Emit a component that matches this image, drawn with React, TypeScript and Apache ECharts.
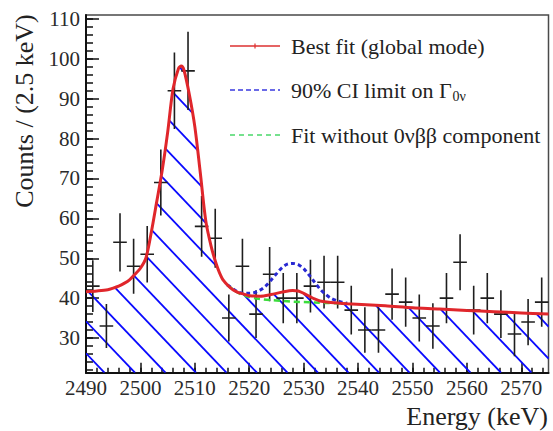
import React, { useEffect, useRef } from 'react';
import * as echarts from 'echarts';

// ---------- data ----------
const BIN_CENTERS = [2491.25, 2493.75, 2496.25, 2498.75, 2501.25, 2503.75, 2506.25, 2508.75, 2511.25, 2513.75, 2516.25, 2518.75, 2521.25, 2523.75, 2526.25, 2528.75, 2531.25, 2533.75, 2536.25, 2538.75, 2541.25, 2543.75, 2546.25, 2548.75, 2551.25, 2553.75, 2556.25, 2558.75, 2561.25, 2563.75, 2566.25, 2568.75, 2571.25, 2573.75];
const COUNTS = [43, 33, 54, 48, 51, 69, 92, 97, 58, 55, 35, 48, 36, 46, 40, 40, 43, 44, 44, 37, 32, 32, 41, 39, 35, 33, 40, 49, 37, 40, 36, 31, 34, 39];
const ERR_LOW = [36.5, 27.5, 46.7, 41.1, 43.9, 60.7, 82.4, 87.2, 50.4, 47.6, 29.1, 41.1, 30, 39.2, 33.7, 33.7, 36.4, 37.4, 37.4, 30.9, 26.3, 26.3, 34.6, 32.8, 29.1, 27.3, 33.7, 42, 30.9, 33.7, 30, 25.4, 28.2, 32.8];
const ERR_HIGH = [49.5, 38.5, 61.3, 54.9, 58.1, 77.3, 101.6, 106.8, 65.6, 62.4, 40.9, 54.9, 42, 52.8, 46.3, 46.3, 49.6, 50.6, 50.6, 43.1, 37.7, 37.7, 47.4, 45.2, 40.9, 38.7, 46.3, 56, 43.1, 46.3, 42, 36.6, 39.8, 45.2];

// Best fit (global mode)
const FIT_E = [2490, 2492, 2494, 2495, 2496, 2497, 2498, 2499, 2500, 2501, 2502, 2503, 2504, 2505, 2506, 2507, 2507.5, 2508, 2509, 2510, 2511, 2512, 2513, 2514, 2515, 2516, 2517, 2518, 2519, 2520, 2522, 2524, 2526, 2528, 2529, 2530, 2531, 2532, 2533, 2535, 2538, 2545, 2550, 2555, 2560, 2565, 2570, 2575];
const FIT_V = [41.6, 41.8, 42.1, 42.5, 43.0, 43.7, 44.6, 46.0, 47.5, 50.0, 56.5, 64.2, 72.0, 81.5, 92.5, 97.6, 98.2, 97.2, 91.0, 83.0, 71.5, 59.5, 53.0, 48.3, 45.0, 43.3, 42.1, 41.4, 41.0, 40.6, 40.5, 40.9, 41.5, 41.9, 41.8, 41.2, 40.5, 39.8, 39.3, 38.9, 38.6, 38.1, 37.6, 37.3, 36.9, 36.6, 36.3, 36.0];

// 90% CI limit
const BLUE_E = [2516, 2518, 2520, 2521, 2522, 2523, 2524, 2525, 2526, 2527, 2528, 2529, 2530, 2531, 2532, 2533, 2534, 2535, 2536, 2537, 2538];
const BLUE_V = [43.3, 41.5, 41.2, 41.4, 42.0, 43.0, 44.5, 46.1, 47.6, 48.5, 48.7, 48.4, 47.4, 45.8, 44.0, 42.3, 41.0, 40.0, 39.4, 39.0, 38.7];

// Fit without 0vbb component
const GREEN_E = [2516, 2518, 2520, 2522, 2524, 2526, 2528, 2530, 2532, 2534, 2536, 2538];
const GREEN_V = [43.3, 41.3, 40.3, 39.8, 39.5, 39.3, 39.1, 39.0, 38.9, 38.8, 38.7, 38.6];

const X_TICK_LABELS = [2490, 2500, 2510, 2520, 2530, 2540, 2550, 2560, 2570];
const Y_TICK_LABELS = [30, 40, 50, 60, 70, 80, 90, 100, 110];

// ---------- styling ----------
const X_MIN = 2490;
const X_MAX = 2575;
const Y_MIN = 21.3;
const Y_MAX = 111;
const BIN_WIDTH = 2.5;
const FONT = "'Liberation Serif', 'Times New Roman', serif";
const HATCH_ANCHOR = 2499.0;
const HATCH_STEP = 30.5;
const HATCH_SLOPE = 1.05;
const HATCH_COLOR = '#0a0aff';

const X_MINOR: number[] = [];
for (let v = X_MIN + 2; v < X_MAX; v += 2) X_MINOR.push(v);
const Y_MINOR: number[] = [];
for (let v = 22; v <= 110; v += 2) Y_MINOR.push(v);

const zip = (a: number[], b: number[]) => a.map((x, i) => [x, b[i]]);

function renderHatch(_params: any, api: any) {
  const pts = FIT_E.map((e, i) => api.coord([e, FIT_V[i]]));
  const lb = api.coord([X_MIN, Y_MIN]);
  const rt = api.coord([X_MAX, Y_MAX]);
  const left = lb[0], bottom = lb[1], right = rt[0], top = rt[1];
  const curveY = (x: number) => {
    if (x <= pts[0][0]) return pts[0][1];
    for (let i = 1; i < pts.length; i++) {
      if (x <= pts[i][0]) {
        const t = (x - pts[i - 1][0]) / (pts[i][0] - pts[i - 1][0]);
        return pts[i - 1][1] + t * (pts[i][1] - pts[i - 1][1]);
      }
    }
    return pts[pts.length - 1][1];
  };
  const anchor = api.coord([HATCH_ANCHOR, Y_MIN])[0];
  const h = bottom - top;
  let x0 = anchor;
  while (x0 - HATCH_STEP >= left) x0 -= HATCH_STEP;
  const children: any[] = [];
  for (; x0 <= right + h / HATCH_SLOPE; x0 += HATCH_STEP) {
    const xa = Math.max(left, x0 - h / HATCH_SLOPE);
    const xb = Math.min(right, x0);
    if (xb <= xa) continue;
    const lineY = (x: number) => bottom - HATCH_SLOPE * (x0 - x);
    const n = Math.max(1, Math.ceil((xb - xa) / 0.5));
    let start = -1;
    let prevX = xa;
    for (let k = 0; k <= n; k++) {
      const x = xa + ((xb - xa) * k) / n;
      const ins = lineY(x) >= curveY(x);
      if (ins && start < 0) start = x;
      if ((!ins || k === n) && start >= 0) {
        const end = ins ? x : prevX;
        if (end > start) {
          children.push({
            type: 'line',
            shape: { x1: start, y1: lineY(start), x2: end, y2: lineY(end) },
            style: { stroke: HATCH_COLOR, lineWidth: 1.8 },
          });
        }
        start = -1;
      }
      prevX = x;
    }
  }
  return { type: 'group', children };
}

function renderErr(_params: any, api: any) {
  const e = api.value(0), v = api.value(1), lo = api.value(2), hi = api.value(3);
  const c = api.coord([e, v]);
  const pLo = api.coord([e, lo]);
  const pHi = api.coord([e, hi]);
  const hw = api.size([BIN_WIDTH, 0])[0] / 2;
  const st = { stroke: '#1e1e1e', lineWidth: 1.6 };
  return {
    type: 'group',
    children: [
      { type: 'line', shape: { x1: c[0], y1: pLo[1], x2: c[0], y2: pHi[1] }, style: st },
      { type: 'line', shape: { x1: c[0] - hw, y1: c[1], x2: c[0] + hw, y2: c[1] }, style: st },
    ],
  };
}

const tickLine = { color: '#111', width: 1.5 };
const plain = (v: number) => String(v);

const option: any = {
  animation: false,
  backgroundColor: '#ffffff',
  textStyle: { fontFamily: FONT },
  grid: {
    left: 86, right: 4.5, top: 15, bottom: 58.3,
    show: true, borderColor: '#4a4a4a', borderWidth: 1.5, backgroundColor: 'transparent',
  },
  xAxis: [
    {
      type: 'value', min: X_MIN, max: X_MAX, position: 'bottom',
      axisLine: { show: true, onZero: false, lineStyle: { color: '#111', width: 2 } },
      axisTick: { show: true, inside: true, length: 10, customValues: X_TICK_LABELS, lineStyle: tickLine },
      axisLabel: { customValues: X_TICK_LABELS, formatter: plain, fontFamily: FONT, fontSize: 21, color: '#2a2a2a', margin: 5 },
      splitLine: { show: false },
    },
    {
      type: 'value', min: X_MIN, max: X_MAX, position: 'bottom',
      axisLine: { show: false, onZero: false },
      axisTick: { show: true, inside: true, length: 5, customValues: X_MINOR, lineStyle: tickLine },
      axisLabel: { show: false },
      splitLine: { show: false },
    },
  ],
  yAxis: [
    {
      type: 'value', min: Y_MIN, max: Y_MAX, position: 'left',
      axisLine: { show: true, onZero: false, lineStyle: { color: '#111', width: 2 } },
      axisTick: { show: true, inside: true, length: 13, customValues: Y_TICK_LABELS, lineStyle: tickLine },
      axisLabel: { customValues: Y_TICK_LABELS, formatter: plain, fontFamily: FONT, fontSize: 21, color: '#2a2a2a', margin: 6 },
      splitLine: { show: false },
    },
    {
      type: 'value', min: Y_MIN, max: Y_MAX, position: 'left',
      axisLine: { show: false, onZero: false },
      axisTick: { show: true, inside: true, length: 7, customValues: Y_MINOR, lineStyle: tickLine },
      axisLabel: { show: false },
      splitLine: { show: false },
    },
  ],
  series: [
    {
      type: 'custom', name: 'hatch', xAxisIndex: 0, yAxisIndex: 0, silent: true, clip: true, z: 1,
      renderItem: renderHatch, data: [[X_MIN, Y_MIN]], encode: { x: 0, y: 1 },
    },
    {
      type: 'custom', name: 'data', xAxisIndex: 0, yAxisIndex: 0, silent: true, clip: true, z: 3,
      renderItem: renderErr,
      data: BIN_CENTERS.map((e, i) => [e, COUNTS[i], ERR_LOW[i], ERR_HIGH[i]]),
      encode: { x: 0, y: 1 },
    },
    {
      type: 'line', name: 'green', data: zip(GREEN_E, GREEN_V), smooth: 0.3, symbol: 'none', silent: true, z: 4,
      lineStyle: { color: '#3cdc3c', width: 2.5, type: [6, 4] },
    },
    {
      type: 'line', name: 'blue', data: zip(BLUE_E, BLUE_V), smooth: 0.3, symbol: 'none', silent: true, z: 5,
      lineStyle: { color: '#2828d2', width: 3, type: [4, 3] },
    },
    {
      type: 'line', name: 'red', data: zip(FIT_E, FIT_V), smooth: 0.3, symbol: 'none', silent: true, z: 6,
      lineStyle: { color: '#e0262b', width: 3 },
    },
  ],
  graphic: [
    // legend
    { type: 'line', z: 100, shape: { x1: 230, y1: 46, x2: 280, y2: 46 }, style: { stroke: '#dd3030', lineWidth: 1.6 } },
    { type: 'line', z: 100, shape: { x1: 255, y1: 43.5, x2: 255, y2: 48.5 }, style: { stroke: '#dd3030', lineWidth: 1.2 } },
    {
      type: 'text', z: 100, x: 291, y: 46,
      style: { text: 'Best fit (global mode)', font: `22px ${FONT}`, fill: '#222', align: 'left', verticalAlign: 'middle' },
    },
    { type: 'line', z: 100, shape: { x1: 230, y1: 90, x2: 280, y2: 90 }, style: { stroke: '#3a3ae0', lineWidth: 1.6, lineDash: [5, 3] } },
    {
      type: 'text', z: 100, x: 291, y: 90,
      style: {
        text: '90% CI limit on Γ{sub|0ν}', font: `22px ${FONT}`, fill: '#222', align: 'left', verticalAlign: 'middle',
        rich: { sub: { font: `14px ${FONT}`, fill: '#222', padding: [12, 0, 0, 1] } },
      },
    },
    { type: 'line', z: 100, shape: { x1: 230, y1: 135, x2: 280, y2: 135 }, style: { stroke: '#4ad86a', lineWidth: 1.6, lineDash: [5, 4] } },
    {
      type: 'text', z: 100, x: 291, y: 135,
      style: { text: 'Fit without 0νββ component', font: `22px ${FONT}`, fill: '#222', align: 'left', verticalAlign: 'middle' },
    },
    // axis titles
    {
      type: 'text', z: 100, x: 24, y: 111, rotation: Math.PI / 2,
      style: { text: 'Counts / (2.5 keV)', font: `26px ${FONT}`, fill: '#222', align: 'center', verticalAlign: 'middle' },
    },
    {
      type: 'text', z: 100, x: 548, y: 416,
      style: { text: 'Energy (keV)', font: `26px ${FONT}`, fill: '#222', align: 'right', verticalAlign: 'middle' },
    },
  ],
};

export default function App() {
  const ref = useRef<HTMLDivElement>(null);
  useEffect(() => {
    document.body.style.margin = '0';
    const chart = echarts.init(ref.current as HTMLDivElement, null, { renderer: 'svg' });
    chart.setOption(option);
    return () => chart.dispose();
  }, []);
  return <div ref={ref} style={{ width: 553, height: 431, background: '#fff' }} />;
}
